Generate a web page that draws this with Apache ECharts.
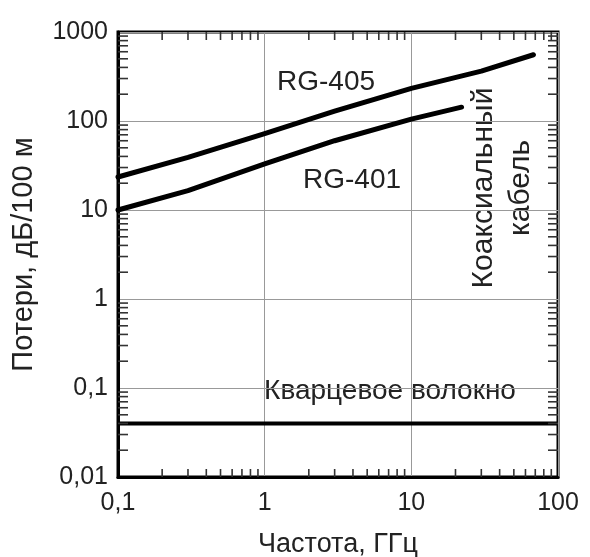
<!DOCTYPE html>
<html>
<head>
<meta charset="utf-8">
<script src="https://cdn.jsdelivr.net/npm/echarts@6/dist/echarts.min.js"></script>
<style>
html, body { margin: 0; padding: 0; background: #fff; }
#chart { width: 590px; height: 557px; }
</style>
</head>
<body>
<div id="chart"></div>
<script>
// частота, ГГц
var rg405Freq = [0.1, 0.3, 1, 3, 10, 30, 68];
var rg405Loss = [23.5, 39, 72, 129, 233, 363, 555];
var rg401Freq = [0.1, 0.3, 1, 3, 10, 22];
var rg401Loss = [10, 16.5, 33, 60, 105, 143];
var fiberFreq = [0.1, 100];
var fiberLoss = [0.04, 0.04];

var xTicks = [0.1, 1, 10, 100];
var yTicks = [0.01, 0.1, 1, 10, 100, 1000];
var minorSteps = [2, 3, 4, 5, 6, 7, 8, 9];

var FONT = 'Liberation Sans, Arial, sans-serif';

function pairs(xs, ys) {
	var out = [];
	for (var i = 0; i < xs.length; i++) out.push([xs[i], ys[i]]);
	return out;
}

function fmt(v) {
	return String(+(+v).toPrecision(3)).replace('.', ',');
}

// мелкие риски по четырём сторонам рамки (0 - лево, 1 - право, 2 - низ, 3 - верх)
var minorData = [], minorSide = [];
var xMin = xTicks[0], xMax = xTicks[xTicks.length - 1];
var yMin = yTicks[0], yMax = yTicks[yTicks.length - 1];
for (var i = 0; i < yTicks.length - 1; i++) {
	for (var j = 0; j < minorSteps.length; j++) {
		var v = yTicks[i] * minorSteps[j];
		minorData.push([xMin, v]); minorSide.push(0);
		minorData.push([xMax, v]); minorSide.push(1);
	}
}
for (var i = 0; i < xTicks.length - 1; i++) {
	for (var j = 0; j < minorSteps.length; j++) {
		var v = xTicks[i] * minorSteps[j];
		minorData.push([v, yMin]); minorSide.push(2);
		minorData.push([v, yMax]); minorSide.push(3);
	}
}

var chart = echarts.init(document.getElementById('chart'));

var option = {
	backgroundColor: '#fff',
	animation: false,
	grid: {
		left: 118,
		top: 32,
		width: 440,
		height: 445,
		outerBoundsMode: 'none',
		show: true,
		borderColor: '#000',
		borderWidth: 3,
		backgroundColor: 'transparent'
	},
	xAxis: {
		type: 'log',
		logBase: 10,
		min: xMin,
		max: xMax,
		name: 'Частота, ГГц',
		nameLocation: 'middle',
		nameGap: 54,
		nameTextStyle: { fontFamily: FONT, fontSize: 27, color: '#222' },
		axisLine: { lineStyle: { color: '#000', width: 3 } },
		axisTick: { show: false },
		axisLabel: { formatter: fmt, fontFamily: FONT, fontSize: 25, color: '#222', margin: 14 },
		splitLine: { show: true, lineStyle: { color: '#999', width: 1 } }
	},
	yAxis: {
		type: 'log',
		logBase: 10,
		min: yMin,
		max: yMax,
		name: 'Потери, дБ/100 м',
		nameLocation: 'middle',
		nameGap: 80,
		nameTextStyle: { fontFamily: FONT, fontSize: 29, color: '#222' },
		axisLine: { lineStyle: { color: '#000', width: 3 } },
		axisTick: { show: false },
		axisLabel: { formatter: fmt, fontFamily: FONT, fontSize: 25, color: '#222', margin: 10 },
		splitLine: { show: true, lineStyle: { color: '#999', width: 1 } }
	},
	series: [{
		name: 'ticks',
		type: 'custom',
		coordinateSystem: 'cartesian2d',
		silent: true,
		clip: false,
		z: 5,
		data: minorData,
		renderItem: function(params, api) {
			var p = api.coord([api.value(0), api.value(1)]);
			var side = minorSide[params.dataIndex];
			var len = side < 2 ? 10 : 8;
			var x2 = p[0], y2 = p[1];
			if (side == 0) x2 += len;
			else if (side == 1) x2 -= len;
			else if (side == 2) y2 -= len;
			else y2 += len;
			return {
				type: 'line',
				shape: { x1: p[0], y1: p[1], x2: x2, y2: y2 },
				style: { stroke: '#333', lineWidth: 1.6 }
			};
		}
	}, {
		name: 'RG-405',
		type: 'line',
		data: pairs(rg405Freq, rg405Loss),
		showSymbol: false,
		z: 3,
		lineStyle: { color: '#000', width: 5, cap: 'round', join: 'round' }
	}, {
		name: 'RG-401',
		type: 'line',
		data: pairs(rg401Freq, rg401Loss),
		showSymbol: false,
		z: 3,
		lineStyle: { color: '#000', width: 5, cap: 'round', join: 'round' }
	}, {
		name: 'Кварцевое волокно',
		type: 'line',
		data: pairs(fiberFreq, fiberLoss),
		showSymbol: false,
		z: 3,
		lineStyle: { color: '#000', width: 4 }
	}],
	graphic: [{
		type: 'text', x: 326, y: 82,
		style: { text: 'RG-405', font: '28px ' + FONT, fill: '#222', align: 'center', verticalAlign: 'middle' }
	}, {
		type: 'text', x: 352, y: 180,
		style: { text: 'RG-401', font: '28px ' + FONT, fill: '#222', align: 'center', verticalAlign: 'middle' }
	}, {
		type: 'text', x: 390, y: 391,
		style: { text: 'Кварцевое волокно', font: '28px ' + FONT, fill: '#222', align: 'center', verticalAlign: 'middle' }
	}, {
		type: 'text', x: 502, y: 188, rotation: Math.PI / 2,
		style: { text: 'Коаксиальный\nкабель', font: '30px ' + FONT, lineHeight: 37, fill: '#222', align: 'center', verticalAlign: 'middle' }
	}]
};

chart.setOption(option);
</script>
</body>
</html>
